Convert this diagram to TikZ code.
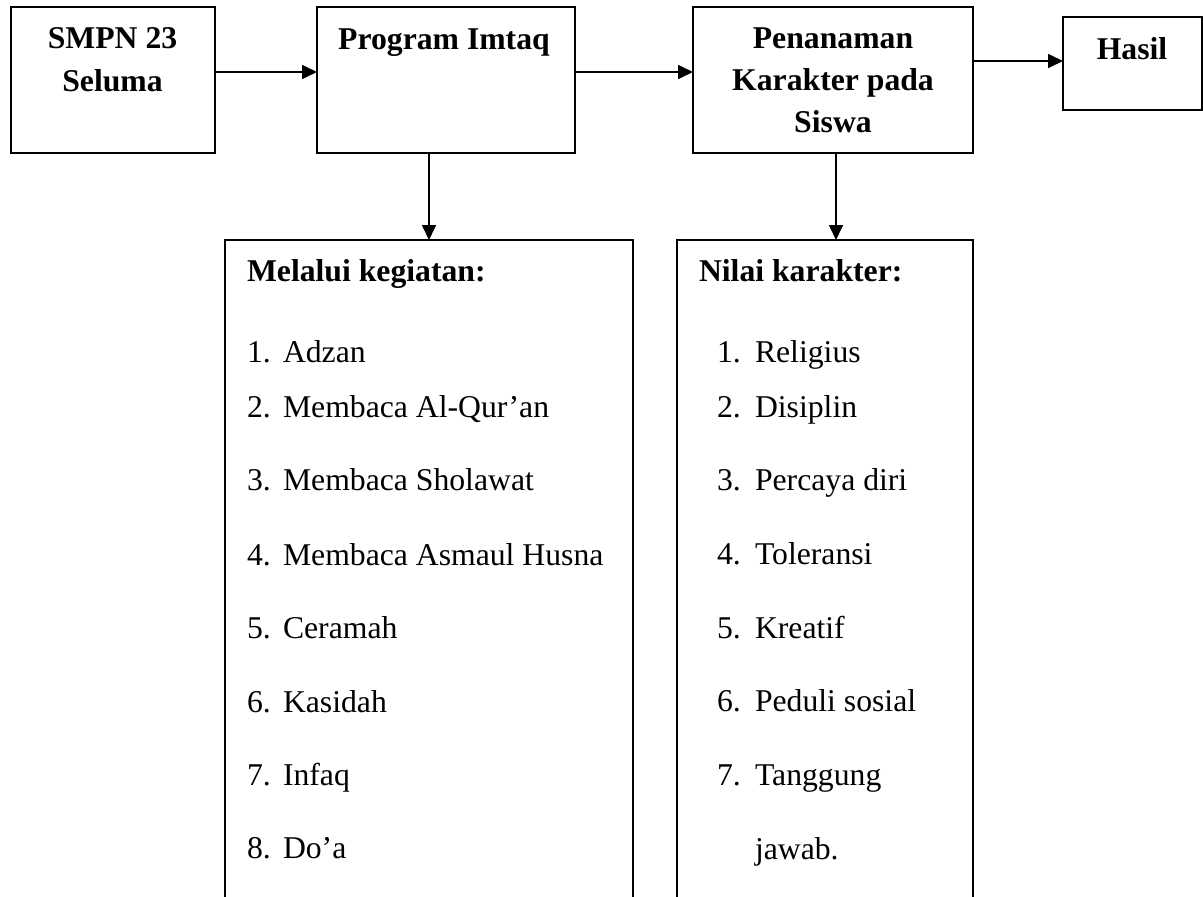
\documentclass[tikz,border=0pt]{standalone}
\usepackage{fontspec}
\setmainfont{Liberation Serif}
\usetikzlibrary{arrows.meta}
\begin{document}
\begin{tikzpicture}[x=1pt,y=-1pt,
  box/.style={draw, line width=1.7pt, rectangle, inner sep=0pt, outer sep=0pt},
  lbl/.style={inner sep=0pt, outer sep=0pt, font=\fontsize{31.7}{38}\selectfont},
  bl/.style={inner sep=0pt, outer sep=0pt, font=\fontsize{31.7}{38}\selectfont\bfseries},
  arr/.style={line width=1.7pt, -{Triangle[length=15pt,width=14pt]}}]
\useasboundingbox (0,0) rectangle (1203,897);
\clip (0,0) rectangle (1203,897);
\fill[white] (0,0) rectangle (1203,897);

% top boxes
\node[box, minimum width=204pt, minimum height=146pt] (smpn) at (113,80) {};
\node[box, minimum width=258pt, minimum height=146pt] (prog) at (446,80) {};
\node[box, minimum width=280pt, minimum height=146pt] (pen) at (833,80) {};
\node[box, minimum width=139pt, minimum height=93pt] (hasil) at (1132.5,63.5) {};

% lower boxes (open at the bottom of the picture)
\node[box, minimum width=408pt, minimum height=700pt] (act) at (429,590) {};
\node[box, minimum width=296pt, minimum height=700pt] (nil) at (825,590) {};

% top box texts
\node[bl, anchor=base] (s1) at (112.5,48) {SMPN 23};
\node[bl, anchor=base] (s2) at (112.5,91.5) {Seluma};
\node[bl, anchor=base] (p1) at (444,49.5) {Program Imtaq};
\node[bl, anchor=base] (k1) at (833,48.3) {Penanaman};
\node[bl, anchor=base] (k2) at (833,90.3) {Karakter pada};
\node[bl, anchor=base] (k3) at (833,132.3) {Siswa};
\node[bl, anchor=base] (h1) at (1132,59) {Hasil};

% connectors
\draw[arr] ([yshift=8pt]smpn.east) -- ([yshift=8pt]smpn.east -| prog.west);
\draw[arr] ([yshift=8pt]prog.east) -- ([yshift=8pt]prog.east -| pen.west);
\draw[arr] ([yshift=2.5pt]hasil.west -| pen.east) -- ([yshift=2.5pt]hasil.west);
\draw[arr] (act.north |- prog.south) -- (act.north);
\draw[arr] ([xshift=3pt]pen.south) -- ([xshift=3pt]pen.south |- nil.north);

% activity list
\node[bl, anchor=base west] (actt) at (247,281) {Melalui kegiatan:};
\foreach \n/\t/\y in {1/Adzan/362, 2/Membaca Al-Qur’an/417, 3/Membaca Sholawat/490,
  4/Membaca Asmaul Husna/565, 5/Ceramah/638, 6/Kasidah/712, 7/Infaq/785, 8/Do’a/858}{
  \node[lbl, anchor=base west] (an\n) at (247,\y) {\n.};
  \node[lbl, anchor=base west] (at\n) at (283,\y) {\t};
}

% value list
\node[bl, anchor=base west] (nilt) at (699,281) {Nilai karakter:};
\foreach \n/\t/\y in {1/Religius/362, 2/Disiplin/417, 3/Percaya diri/490,
  4/Toleransi/564, 5/Kreatif/638, 6/Peduli sosial/711, 7/Tanggung/785}{
  \node[lbl, anchor=base west] (nn\n) at (717,\y) {\n.};
  \node[lbl, anchor=base west] (nt\n) at (755,\y) {\t};
}
\node[lbl, anchor=base west] (nt8) at (755,859) {jawab.};
\end{tikzpicture}
\end{document}
